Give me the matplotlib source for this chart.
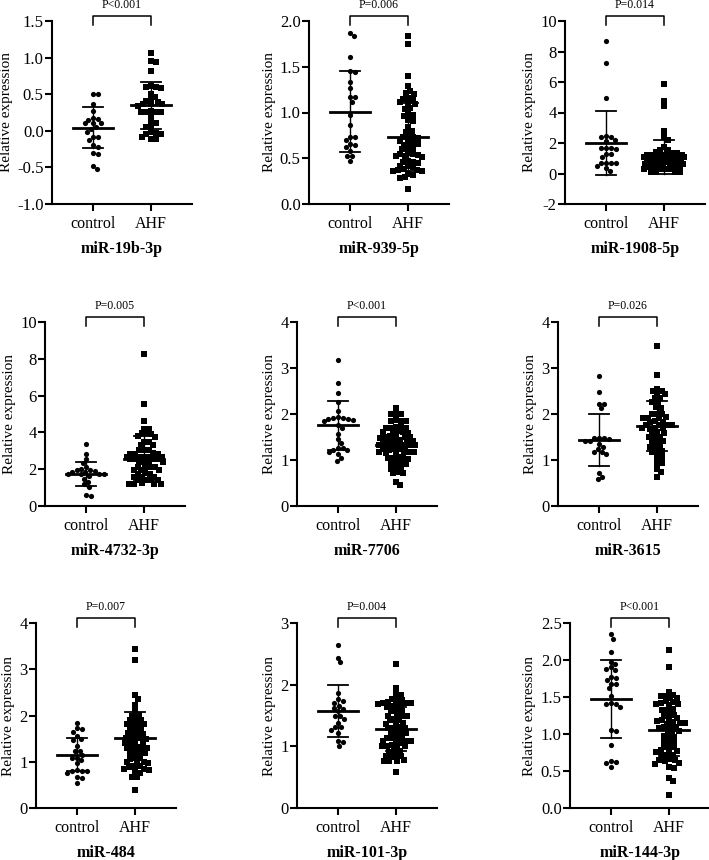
import numpy as np
import matplotlib
matplotlib.use("Agg")
import matplotlib.pyplot as plt
from matplotlib.ticker import FormatStrFormatter, MultipleLocator

plt.rcParams['font.family'] = ['Liberation Serif', 'DejaVu Serif']
plt.rcParams['axes.unicode_minus'] = False

groups = ["control", "AHF"]

names = ["miR-19b-3p", "miR-939-5p", "miR-1908-5p",
         "miR-4732-3p", "miR-7706", "miR-3615",
         "miR-484", "miR-101-3p", "miR-144-3p"]
pvals = ["P<0.001", "P=0.006", "P=0.014",
         "P=0.005", "P<0.001", "P=0.026",
         "P=0.007", "P=0.004", "P<0.001"]

# values
ctrl_19b = [0.50, 0.50, 0.36, 0.27, 0.17, 0.15, 0.16, 0.10, 0.10, 0.11, 0.03, 0.05,
            -0.01, -0.08, -0.08, -0.13, -0.20, -0.22, -0.31, -0.32, -0.48, -0.52]
ahf_19b = [1.06, 0.94, 0.95, 0.82, 0.61, 0.60, 0.60, 0.59, 0.50, 0.46, 0.43, 0.40,
           0.41, 0.36, 0.36, 0.34, 0.36, 0.27, 0.26, 0.26, 0.25, 0.25, 0.20, 0.12,
           0.10, 0.05, 0.05, -0.02, -0.03, -0.04, -0.05, -0.08, -0.11, -0.11]

ctrl_939 = [1.87, 1.84, 1.61, 1.45, 1.44, 1.33, 1.27, 1.17, 1.17, 1.12, 0.97, 0.86,
            0.73, 0.73, 0.70, 0.65, 0.66, 0.62, 0.58, 0.53, 0.52, 0.47]
ahf_939 = [1.84, 1.75, 1.40, 1.29, 1.24, 1.20, 1.21, 1.15, 1.16, 1.14, 1.10, 1.09,
           1.11, 1.05, 1.04, 0.97, 0.98, 0.96, 0.92, 0.91, 0.84, 0.79, 0.80, 0.73,
           0.74, 0.72, 0.73, 0.68, 0.69, 0.67, 0.66, 0.65, 0.61, 0.62, 0.60, 0.55,
           0.56, 0.54, 0.55, 0.52, 0.51, 0.52, 0.46, 0.47, 0.45, 0.46, 0.41, 0.42,
           0.40, 0.37, 0.36, 0.37, 0.38, 0.36, 0.33, 0.32, 0.28, 0.29, 0.16]

ctrl_1908 = [8.70, 7.27, 4.96, 2.41, 2.40, 2.45, 2.19, 2.10, 1.64, 1.65, 1.66, 1.63,
             1.27, 1.26, 1.05, 0.70, 0.71, 0.69, 0.70, 0.50, 0.38, 0.16]
ahf_1908 = [5.90, 4.76, 4.41, 2.80, 2.40, 2.19, 1.75, 1.53, 1.55, 1.36, 1.38, 1.35,
            1.20, 1.22, 1.19, 1.21, 1.18, 1.20, 1.23, 1.19, 1.10, 1.08, 1.11, 1.09,
            1.12, 1.10, 1.07, 1.10, 0.92, 0.93, 0.90, 0.94, 0.92, 0.77, 0.78, 0.76,
            0.77, 0.79, 0.62, 0.63, 0.61, 0.62, 0.60, 0.44, 0.45, 0.43, 0.44, 0.46,
            0.29, 0.30, 0.28, 0.29, 0.12, 0.13, 0.11, 0.12]

ctrl_4732 = [3.35, 2.85, 2.58, 2.36, 2.13, 2.03, 1.95, 1.96, 1.92, 1.85, 1.84, 1.73,
             1.74, 1.72, 1.73, 1.64, 1.49, 1.31, 1.18, 1.04, 0.62, 0.53]
ahf_4732 = [8.27, 5.56, 4.62, 4.18, 4.20, 3.95, 3.97, 3.93, 3.76, 3.78, 3.49, 3.50,
            3.31, 3.30, 3.04, 3.05, 3.02, 2.85, 2.86, 2.84, 2.85, 2.67, 2.68, 2.66,
            2.67, 2.69, 2.55, 2.56, 2.54, 2.55, 2.40, 2.41, 2.39, 2.40, 2.13, 2.14,
            2.12, 2.13, 1.95, 1.96, 1.94, 1.76, 1.77, 1.75, 1.58, 1.59, 1.57, 1.40,
            1.41, 1.39, 1.40, 1.22, 1.23, 1.21, 1.22, 1.20]

ctrl_7706 = [3.18, 2.67, 2.45, 2.25, 2.07, 1.92, 1.93, 1.91, 1.90, 1.90, 1.88, 1.85,
             1.77, 1.70, 1.57, 1.46, 1.37, 1.26, 1.27, 1.21, 1.22, 1.18, 1.12, 1.04,
             0.97]
ahf_7706 = [2.14, 2.00, 2.01, 1.99, 1.85, 1.86, 1.84, 1.85, 1.70, 1.71, 1.69, 1.70,
            1.72, 1.60, 1.61, 1.59, 1.60, 1.62, 1.50, 1.51, 1.49, 1.50, 1.52, 1.48,
            1.41, 1.42, 1.40, 1.41, 1.43, 1.39, 1.32, 1.33, 1.31, 1.32, 1.34, 1.30,
            1.32, 1.33, 1.23, 1.24, 1.22, 1.23, 1.17, 1.18, 1.16, 1.17, 1.15, 1.18,
            1.04, 1.05, 1.03, 1.04, 1.06, 0.93, 0.94, 0.92, 0.93, 0.82, 0.83, 0.81,
            0.72, 0.73, 0.71, 0.53, 0.46]

ctrl_3615 = [2.82, 2.47, 2.22, 2.21, 2.12, 1.47, 1.48, 1.47, 1.46, 1.41, 1.41, 1.35,
             1.28, 1.24, 1.17, 1.18, 1.12, 0.72, 0.64, 0.58]
ahf_3615 = [3.47, 2.85, 2.55, 2.50, 2.51, 2.43, 2.44, 2.34, 2.35, 2.25, 2.26, 2.14,
            2.15, 2.00, 2.01, 1.99, 1.92, 1.93, 1.91, 1.92, 1.83, 1.84, 1.82, 1.76,
            1.77, 1.75, 1.76, 1.69, 1.70, 1.68, 1.69, 1.59, 1.60, 1.58, 1.50, 1.51,
            1.49, 1.41, 1.42, 1.40, 1.30, 1.31, 1.29, 1.19, 1.20, 1.18, 1.06, 1.07,
            0.93, 0.94, 0.81, 0.74, 0.64]

ctrl_484 = [1.84, 1.71, 1.72, 1.64, 1.55, 1.48, 1.49, 1.33, 1.23, 1.24, 1.15, 1.08,
            1.09, 1.03, 0.97, 0.81, 0.82, 0.79, 0.80, 0.76, 0.65, 0.66, 0.55]
ahf_484 = [3.44, 3.21, 2.45, 2.36, 2.23, 2.09, 2.00, 2.01, 1.91, 1.92, 1.90, 1.82,
           1.83, 1.81, 1.82, 1.73, 1.74, 1.72, 1.62, 1.63, 1.61, 1.62, 1.51, 1.52,
           1.50, 1.51, 1.53, 1.41, 1.42, 1.40, 1.41, 1.30, 1.31, 1.29, 1.30, 1.32,
           1.19, 1.20, 1.18, 1.19, 1.08, 1.09, 1.07, 0.99, 1.00, 0.98, 0.99, 0.90,
           0.91, 0.89, 0.84, 0.85, 0.83, 0.76, 0.77, 0.67, 0.68, 0.40]

ctrl_101 = [2.65, 2.43, 2.36, 1.86, 1.76, 1.74, 1.70, 1.66, 1.61, 1.62, 1.57, 1.49,
            1.50, 1.44, 1.38, 1.31, 1.32, 1.27, 1.22, 1.07, 1.08, 1.00]
ahf_101 = [2.34, 1.95, 1.84, 1.85, 1.76, 1.77, 1.75, 1.70, 1.71, 1.69, 1.70, 1.72,
           1.68, 1.65, 1.66, 1.64, 1.58, 1.59, 1.57, 1.50, 1.51, 1.49, 1.50, 1.43,
           1.44, 1.42, 1.37, 1.38, 1.36, 1.30, 1.31, 1.29, 1.30, 1.22, 1.23, 1.21,
           1.22, 1.14, 1.15, 1.13, 1.14, 1.08, 1.09, 1.07, 1.08, 1.06, 1.00, 1.01,
           0.99, 1.00, 1.02, 0.92, 0.93, 0.91, 0.84, 0.85, 0.83, 0.84, 0.77, 0.78,
           0.76, 0.77, 0.59]

ctrl_144 = [2.35, 2.29, 2.11, 1.97, 1.94, 1.88, 1.87, 1.90, 1.77, 1.76, 1.73, 1.68,
            1.67, 1.62, 1.51, 1.41, 1.40, 1.42, 1.37, 1.05, 1.04, 0.85, 0.63, 0.62,
            0.61, 0.56]
ahf_144 = [2.13, 1.91, 1.57, 1.52, 1.53, 1.51, 1.49, 1.48, 1.43, 1.44, 1.42, 1.40,
           1.41, 1.39, 1.33, 1.34, 1.32, 1.26, 1.27, 1.25, 1.20, 1.21, 1.19, 1.15,
           1.16, 1.14, 1.15, 1.17, 1.09, 1.10, 1.08, 1.09, 1.04, 1.05, 1.03, 0.97,
           0.98, 0.96, 0.90, 0.91, 0.89, 0.83, 0.84, 0.82, 0.77, 0.78, 0.76, 0.77,
           0.71, 0.72, 0.70, 0.65, 0.66, 0.64, 0.65, 0.61, 0.60, 0.54, 0.55, 0.41,
           0.37, 0.17]

ctrl_data = [ctrl_19b, ctrl_939, ctrl_1908, ctrl_4732, ctrl_7706, ctrl_3615,
             ctrl_484, ctrl_101, ctrl_144]
ahf_data = [ahf_19b, ahf_939, ahf_1908, ahf_4732, ahf_7706, ahf_3615,
            ahf_484, ahf_101, ahf_144]

# mean and SD bars as drawn in the figure
ctrl_mean = [0.04, 1.01, 2.01, 1.73, 1.75, 1.43, 1.15, 1.57, 1.47]
ctrl_sd = [0.28, 0.44, 2.10, 0.66, 0.54, 0.57, 0.36, 0.42, 0.53]
ahf_mean = [0.35, 0.73, 1.10, 2.58, 1.32, 1.74, 1.51, 1.28, 1.06]
ahf_sd = [0.32, 0.37, 1.12, 1.20, 0.33, 0.55, 0.56, 0.36, 0.36]

y_lims = [(-1.0, 1.5), (0, 2.0), (-2, 10), (0, 10), (0, 4), (0, 4), (0, 4), (0, 3), (0, 2.5)]
y_steps = [0.5, 0.5, 2, 2, 1, 1, 1, 1, 0.5]
y_fmt = ["%.1f", "%.1f", "%d", "%d", "%d", "%d", "%d", "%d", "%.1f"]

W, H = 709, 860
# axes boxes in pixels: left, bottom, height
boxes = [(52, 204, 183), (309, 204, 183), (565, 204, 183),
         (45, 506, 184), (297, 506, 184), (558, 506, 184),
         (36, 808, 185), (297, 808, 185), (570, 808, 185)]
AX_W = 140
XLIM = (-0.7, 1.7)


def swarm(ys, ylim, h_px, d=5.0, max_px=20.0):
    # beeswarm offsets in pixels (points may overlap once the row is full)
    py = (np.asarray(ys, float) - ylim[0]) / (ylim[1] - ylim[0]) * h_px
    xs = np.zeros(len(py))
    done = []
    for i in np.argsort(-py):
        cands = [0.0]
        for j in done:
            dy = py[i] - py[j]
            if abs(dy) < d:
                dx = np.sqrt(d * d - dy * dy)
                cands += [xs[j] + dx, xs[j] - dx]
        cands = sorted([c for c in cands if abs(c) <= max_px], key=abs)
        best, best_gap = 0.0, -1.0
        for c in cands:
            gap = min([np.hypot(c - xs[j], py[i] - py[j]) for j in done] + [99.0])
            if gap >= d - 1e-6:
                best = c
                break
            if gap > best_gap:
                best, best_gap = c, gap
        xs[i] = best
        done.append(i)
    return xs / (AX_W / (XLIM[1] - XLIM[0]))


fig = plt.figure(figsize=(W / 100, H / 100), dpi=100)

for k in range(9):
    left, bottom, h = boxes[k]
    ax = fig.add_axes([left / W, 1 - bottom / H, AX_W / W, h / H])
    ylim = y_lims[k]

    for g, (vals, mk, m, sd) in enumerate([(ctrl_data[k], 'o', ctrl_mean[k], ctrl_sd[k]),
                                            (ahf_data[k], 's', ahf_mean[k], ahf_sd[k])]):
        xo = swarm(vals, ylim, h)
        ax.scatter(g + xo, vals, marker=mk, s=14, color='black', linewidths=0, zorder=3)
        ax.plot([g - 0.34, g + 0.34], [m, m], color='black', lw=2.0, zorder=4)
        ax.plot([g, g], [m - sd, m + sd], color='black', lw=1.0, zorder=4)
        for e in (m - sd, m + sd):
            ax.plot([g - 0.17, g + 0.17], [e, e], color='black', lw=1.3, zorder=4)

    ax.set_xlim(*XLIM)
    ax.set_ylim(*ylim)
    ax.set_xticks([0, 1])
    ax.set_xticklabels(groups, fontsize=11.5)
    ax.yaxis.set_major_locator(MultipleLocator(y_steps[k]))
    ax.yaxis.set_major_formatter(FormatStrFormatter(y_fmt[k]))
    ax.tick_params(axis='y', labelsize=12, length=5, width=1.5, pad=1)
    ax.tick_params(axis='x', length=5, width=1.5, pad=4)
    for s in ('top', 'right'):
        ax.spines[s].set_visible(False)
    for s in ('left', 'bottom'):
        ax.spines[s].set_linewidth(1.5)
    ax.set_ylabel("Relative expression", fontsize=11, labelpad=3)

    # significance bracket
    tr = ax.get_xaxis_transform()
    top = 1 + 5 / h
    leg = 1 - 4 / h
    ax.plot([0, 0, 1, 1], [leg, top, top, leg], color='black', lw=1.1,
            transform=tr, clip_on=False)
    ax.text(0.5, 1 + 16 / h, pvals[k], transform=tr, ha='center', va='center',
            fontsize=8.5)
    ax.text(0.5, -45 / h, names[k], transform=ax.transAxes, ha='center', va='center',
            fontsize=11.5, fontweight='bold')

plt.savefig("out.png", dpi=100)
